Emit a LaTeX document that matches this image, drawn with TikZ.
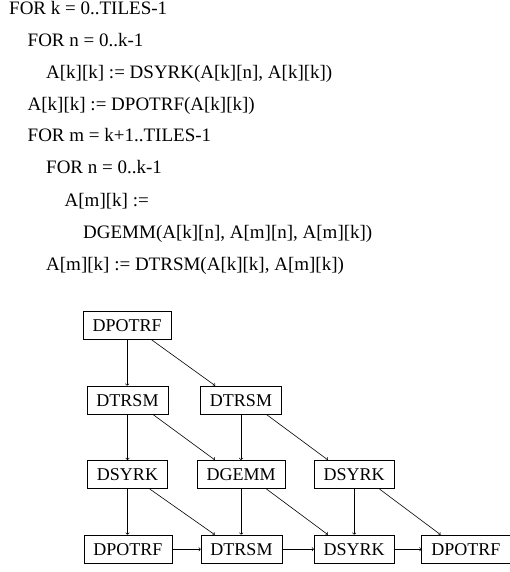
\documentclass[tikz,border=0pt]{standalone}
\usepackage{fontspec}
\setmainfont{Liberation Serif}
\begin{document}
\begin{tikzpicture}[x=1pt,y=-1pt,
  code/.style={anchor=base west,inner sep=0pt,font=\fontsize{19}{22}\selectfont},
  task/.style={draw,line width=0.6pt,inner xsep=9.5pt,inner ysep=0pt,minimum height=28.5pt,text height=12.5pt,text depth=0pt,font=\fontsize{18}{21}\selectfont},
  arr/.style={->,line width=0.6pt}]
\useasboundingbox (0,0) rectangle (509,572);
% code
\node[code] (c1) at (9,15) {FOR k = 0..TILES-1};
\node[code] (c2) at (27.5,47) {FOR n = 0..k-1};
\node[code] (c3) at (46,78.5) {A[k][k] := DSYRK(A[k][n], A[k][k])};
\node[code] (c4) at (27.5,110.5) {A[k][k] := DPOTRF(A[k][k])};
\node[code] (c5) at (27.5,142) {FOR m = k+1..TILES-1};
\node[code] (c6) at (46,174) {FOR n = 0..k-1};
\node[code] (c7) at (64.5,206) {A[m][k] :=};
\node[code] (c8) at (83,238) {DGEMM(A[k][n], A[m][n], A[m][k])};
\node[code] (c9) at (46,270) {A[m][k] := DTRSM(A[k][k], A[m][k])};
% tasks
\node[task] (p1) at (127.2,325.2) {DPOTRF};
\node[task] (t1) at (127.5,400.2) {DTRSM};
\node[task] (t2) at (241,400.2) {DTRSM};
\node[task] (s1) at (127.5,474.5) {DSYRK};
\node[task] (g2) at (241.2,474.5) {DGEMM};
\node[task] (s3) at (354.2,474.5) {DSYRK};
\node[task] (p4) at (128,549.2) {DPOTRF};
\node[task] (t4) at (241.5,549.2) {DTRSM};
\node[task] (s4) at (354.2,549.2) {DSYRK};
\node[task] (q4) at (465.8,549.2) {DPOTRF};
% vertical
\draw[arr] (p1) -- (p1|-t1.north);
\draw[arr] (t1) -- (t1|-s1.north);
\draw[arr] (t2) -- (t2|-g2.north);
\draw[arr] (s1) -- (s1|-p4.north);
\draw[arr] (g2) -- (g2|-t4.north);
\draw[arr] (s3) -- (s3|-s4.north);
% diagonal
\draw[arr] ([xshift=-20pt]p1.south east) -- ([xshift=15pt]t2.north west);
\draw[arr] ([xshift=-15pt]t1.south east) -- ([xshift=18pt]g2.north west);
\draw[arr] ([xshift=-15pt]t2.south east) -- ([xshift=14pt]s3.north west);
\draw[arr] ([xshift=-18pt]s1.south east) -- ([xshift=14pt]t4.north west);
\draw[arr] ([xshift=-19pt]g2.south east) -- ([xshift=14pt]s4.north west);
\draw[arr] ([xshift=-15pt]s3.south east) -- ([xshift=19pt]q4.north west);
% horizontal
\draw[arr] (p4) -- (t4);
\draw[arr] (t4) -- (s4);
\draw[arr] (s4) -- (q4);
\end{tikzpicture}
\end{document}
